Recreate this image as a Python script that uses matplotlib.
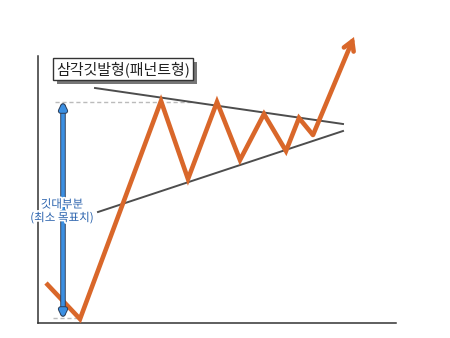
import matplotlib
matplotlib.use("Agg")
import matplotlib.pyplot as plt
import matplotlib.patheffects as pe

plt.rcParams['font.family'] = ['Noto Sans CJK KR', 'DejaVu Sans']

# Price path (time index, price)
price_x = [8, 42, 123, 150, 179, 202, 226, 248, 261, 275, 316]
price_y = [40, 4, 222, 144, 221, 163, 209, 172, 205, 188, 286]

# Converging trend lines of the pennant
upper_x = [57, 305]
upper_y = [235, 199]
lower_x = [60, 305]
lower_y = [111, 192]

# Flagpole reference levels
pole_top = 221
pole_bottom = 5
pole_x = 25

title_text = "삼각깃발형(패넌트형)"
pole_text = "깃대부분\n(최소 목표치)"

orange = '#d9672a'
blue = '#3b8fe2'

fig = plt.figure(figsize=(4.5, 3.38), dpi=100)
ax = fig.add_axes([38 / 450, 15 / 338, 358 / 450, 267 / 338])
ax.set_xlim(0, 358)
ax.set_ylim(0, 267)
for s in ['top', 'right']:
    ax.spines[s].set_visible(False)
for s in ['left', 'bottom']:
    ax.spines[s].set_color('#333333')
    ax.spines[s].set_linewidth(1.1)
ax.set_xticks([])
ax.set_yticks([])

# dashed reference levels
ax.plot([17, 154], [pole_top, pole_top], ls=(0, (3, 2)), color='#bbbbbb', lw=1.0, zorder=1)
ax.plot([15, 39], [pole_bottom, pole_bottom], ls=(0, (3, 2)), color='#bbbbbb', lw=1.0, zorder=1)

# trend lines
ax.plot(upper_x, upper_y, color='#4d4d4d', lw=1.4, zorder=2)
ax.plot(lower_x, lower_y, color='#4d4d4d', lw=1.4, zorder=2)

# price path
ax.plot(price_x[:-1], price_y[:-1], color=orange, lw=3.3, solid_joinstyle='miter',
        solid_capstyle='butt', zorder=3, clip_on=False)
ax.annotate('', xy=(price_x[-1], price_y[-1]), xytext=(price_x[-2], price_y[-2]),
            arrowprops=dict(arrowstyle='->,head_length=0.65,head_width=0.38',
                            color=orange, lw=3.3, shrinkA=0, shrinkB=0,
                            joinstyle='miter', capstyle='round'),
            annotation_clip=False, zorder=3)

# flagpole arrow
arr = ax.annotate('', xy=(pole_x, pole_top), xytext=(pole_x, pole_bottom),
                  arrowprops=dict(arrowstyle='<|-|>,head_length=0.35,head_width=0.17',
                                  fc=blue, ec=blue, lw=2.6, shrinkA=0, shrinkB=0),
                  zorder=4)
arr.arrow_patch.set_path_effects([pe.Stroke(linewidth=4.0, foreground='#2d3f5a'), pe.Normal()])

ax.text(24, 112, pole_text, ha='center', va='center', fontsize=8.3, color='#2a62ad',
        linespacing=1.05, zorder=5, fontweight='medium',
        path_effects=[pe.withStroke(linewidth=2.5, foreground='white')])

# title box with drop shadow
t = ax.text(85, 254, title_text, ha='center', va='center', fontsize=10.8, color='#222222',
            zorder=6,
            bbox=dict(boxstyle='square,pad=0.22', fc='white', ec='#333333', lw=1.0))
t.get_bbox_patch().set_path_effects([
    pe.SimplePatchShadow(offset=(3, -3), shadow_rgbFace='#555555', alpha=0.8),
    pe.Normal()])

fig.savefig('out.png', dpi=100)
